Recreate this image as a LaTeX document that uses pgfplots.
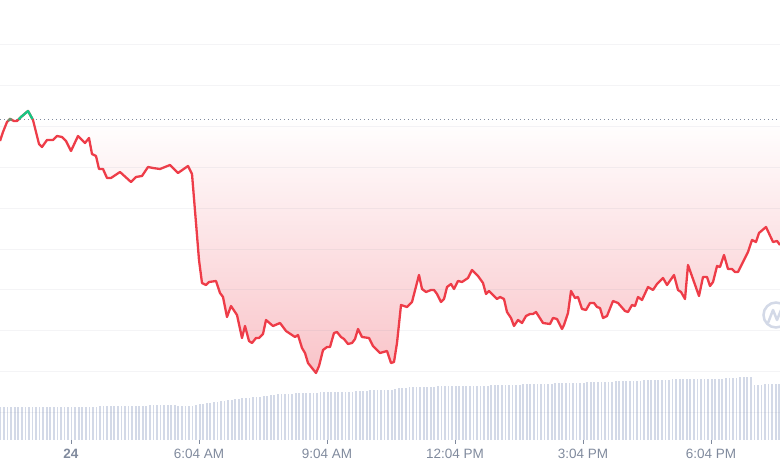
\documentclass[border=0pt]{standalone}
\usepackage{fontspec}
\setmainfont{Liberation Sans}
\usepackage{pgfplots}
\pgfplotsset{compat=1.18}
\definecolor{cmcred}{RGB}{238,60,72}
\definecolor{cmcgreen}{RGB}{22,199,132}
\definecolor{cmcgray}{RGB}{128,138,157}
\definecolor{volbar}{RGB}{211,217,231}
\begin{document}
\begin{tikzpicture}
\path[use as bounding box] (0,-30pt) rectangle (780pt,440pt);
% volume axis (bar heights above the baseline, tick labels below)
\begin{axis}[name=vol,at={(0,0)},anchor=south west,scale only axis,width=780pt,height=440pt,
  xmin=0,xmax=780,ymin=0,ymax=440,
  axis line style={draw=none},ytick=\empty,
  xtick={71,199,327,455,583,711},
  xticklabels={\textbf{24},6:04 AM,9:04 AM,12:04 PM,3:04 PM,6:04 PM},
  xtick pos=bottom,
  x tick style={color=cmcgray,line width=0.7pt},
  major tick length=4pt,tick align=outside,
  x tick label style={font=\fontsize{13.5}{15}\selectfont,text=cmcgray,yshift=-2pt},
]
\addplot[ycomb,no markers,draw=volbar,line width=1.75pt] table[row sep=\\,header=false,x expr=\coordindex*3.556+0.5,y index=0]{
33\\33\\33\\33\\33\\33\\33\\33\\33\\33\\33\\33\\33\\33\\33\\33\\33\\33\\33\\33\\
33\\33\\33\\33\\33\\33\\33\\33\\34\\34\\34\\34\\34\\34\\34\\34\\34\\34\\34\\34\\
34\\34\\35\\35\\35\\35\\35\\35\\35\\35\\34\\34\\34\\34\\34\\35\\36\\36\\37\\37\\
38\\38\\39\\39\\40\\40\\41\\41\\42\\42\\42\\43\\43\\43\\44\\44\\45\\45\\46\\46\\
46\\46\\46\\47\\47\\47\\47\\47\\47\\47\\48\\48\\48\\48\\48\\48\\48\\48\\48\\48\\
49\\49\\49\\49\\50\\50\\50\\50\\50\\50\\50\\51\\52\\52\\52\\53\\53\\53\\53\\53\\
53\\53\\53\\54\\54\\54\\54\\54\\54\\54\\54\\54\\54\\54\\54\\54\\54\\54\\55\\55\\
55\\55\\55\\55\\55\\55\\55\\56\\56\\56\\56\\56\\56\\56\\56\\56\\57\\57\\57\\57\\
57\\57\\57\\57\\57\\58\\58\\58\\58\\58\\58\\58\\58\\59\\59\\59\\59\\59\\59\\59\\
59\\60\\60\\60\\60\\60\\60\\60\\60\\61\\61\\61\\61\\61\\61\\61\\61\\61\\61\\61\\
61\\61\\61\\61\\62\\62\\62\\62\\63\\63\\63\\63\\55\\55\\55\\56\\56\\56\\56\\56\\
};
\end{axis}
% price axis, in pixel rows counted from the top of the picture
\begin{axis}[at={(0,0)},anchor=south west,scale only axis,width=780pt,height=440pt,
  xmin=0,xmax=780,ymin=0,ymax=440,y dir=reverse,
  axis line style={draw=none},axis on top,
  xtick=\empty,ytick={44,85,126,167,208,249,289,330,371,412},yticklabels={},
  major tick length=0pt,
  ymajorgrids,grid style={draw=cmcgray,opacity=0.09,line width=0.8pt},
]
\addplot[draw=none,shade,top color=white,bottom color={rgb,255:red,249;green,196;blue,201},forget plot] coordinates {
(0,119)(0,141)(3,132)(7,122)(9,120)(12,120)(14,121)(17,121)(18.5,119)(33,119)
(39,144)(42,147)(47,140)(53,140)(57,136)(62,137)(66,141)(71,151)(78,136)(85,143)(89,138)(92,154)(96,156)(99,169)(103,169)(107,178)(111,178)(120,172)(131,182)(136,177)(142,176)(148,167)(153,168)(160,169)(170,165)(178,173)(188,166)(192,174)(196,223)(199,260)(202,283)(206,285)(209,282)(216,281)(220,293)(223,297)(227,317)(231,306)(237,315)(242,338)(245,326)(249,341)(252,343)(256,338)(259,338)(263,334)(266,320)(273,326)(280,323)(286,331)(295,337)(298,335)(302,348)(305,353)(308,363)(316,373)(319,366)(323,350)(327,347)(330,347)(334,333)(337,332)(341,337)(344,339)(348,344)(352,343)(355,339)(358,329)(362,337)(369,338)(373,346)(380,353)(387,351)(391,363)(394,362)(397,343)(401,305)(407,307)(412,302)(419,275)(422,289)(426,292)(431,290)(434,290)(437,294)(441,302)(444,299)(447,287)(451,284)(454,289)(458,281)(462,282)(468,278)(472,270)(478,276)(483,283)(486,294)(489,291)(497,299)(500,297)(504,299)(507,312)(511,318)(514,326)(518,320)(522,323)(526,316)(530,314)(533,314)(536,312)(543,323)(550,324)(553,318)(557,319)(562,329)(564,325)(568,313)(571,291)(575,298)(578,297)(582,309)(586,310)(590,303)(594,303)(597,307)(600,308)(603,318)(607,316)(613,301)(618,303)(625,311)(628,312)(632,305)(635,306)(638,297)(642,300)(648,287)(653,290)(657,284)(663,278)(667,285)(674,275)(678,290)(681,292)(685,299)(688,265)(699,296)(703,277)(707,277)(710,286)(713,282)(717,266)(720,267)(724,255)(728,269)(732,269)(735,272)(738,272)(748,252)(752,240)(756,242)(759,233)(766,227)(773,242)(777,241)(780,245)(780,119)
} -- cycle;
\addplot[cmcgray,line width=0.9pt,dash pattern=on 1pt off 3pt,forget plot] coordinates {(0,119)(780,119)};
\addplot[cmcred,line width=2.3pt,line join=round,sharp plot,forget plot] coordinates {
(0,141)(3,132)(7,122)(10,119)(14,121)(17,121)(21,117)(28,111)(33,120)
(39,144)(42,147)(47,140)(53,140)(57,136)(62,137)(66,141)(71,151)(78,136)(85,143)(89,138)(92,154)(96,156)(99,169)(103,169)(107,178)(111,178)(120,172)(131,182)(136,177)(142,176)(148,167)(153,168)(160,169)(170,165)(178,173)(188,166)(192,174)(196,223)(199,260)(202,283)(206,285)(209,282)(216,281)(220,293)(223,297)(227,317)(231,306)(237,315)(242,338)(245,326)(249,341)(252,343)(256,338)(259,338)(263,334)(266,320)(273,326)(280,323)(286,331)(295,337)(298,335)(302,348)(305,353)(308,363)(316,373)(319,366)(323,350)(327,347)(330,347)(334,333)(337,332)(341,337)(344,339)(348,344)(352,343)(355,339)(358,329)(362,337)(369,338)(373,346)(380,353)(387,351)(391,363)(394,362)(397,343)(401,305)(407,307)(412,302)(419,275)(422,289)(426,292)(431,290)(434,290)(437,294)(441,302)(444,299)(447,287)(451,284)(454,289)(458,281)(462,282)(468,278)(472,270)(478,276)(483,283)(486,294)(489,291)(497,299)(500,297)(504,299)(507,312)(511,318)(514,326)(518,320)(522,323)(526,316)(530,314)(533,314)(536,312)(543,323)(550,324)(553,318)(557,319)(562,329)(564,325)(568,313)(571,291)(575,298)(578,297)(582,309)(586,310)(590,303)(594,303)(597,307)(600,308)(603,318)(607,316)(613,301)(618,303)(625,311)(628,312)(632,305)(635,306)(638,297)(642,300)(648,287)(653,290)(657,284)(663,278)(667,285)(674,275)(678,290)(681,292)(685,299)(688,265)(699,296)(703,277)(707,277)(710,286)(713,282)(717,266)(720,267)(724,255)(728,269)(732,269)(735,272)(738,272)(748,252)(752,240)(756,242)(759,233)(766,227)(773,242)(777,241)(780,245)
};
\addplot[cmcgreen,line width=2.3pt,line join=round,forget plot] coordinates {(18.5,119.5)(21,117)(28,111)(32.5,119)};
\addplot[cmcgreen!60!cmcred,line width=2.3pt,forget plot] coordinates {(8,121)(10,119)(12,120)};
\draw[color=volbar,line width=2.5pt] (axis cs:776,315) circle[radius=12.5pt];
\draw[color=volbar,line width=2.5pt,line join=round] (axis cs:768,323)--(axis cs:773,310)--(axis cs:777,320)--(axis cs:781,310);
\end{axis}
\end{tikzpicture}
\end{document}
